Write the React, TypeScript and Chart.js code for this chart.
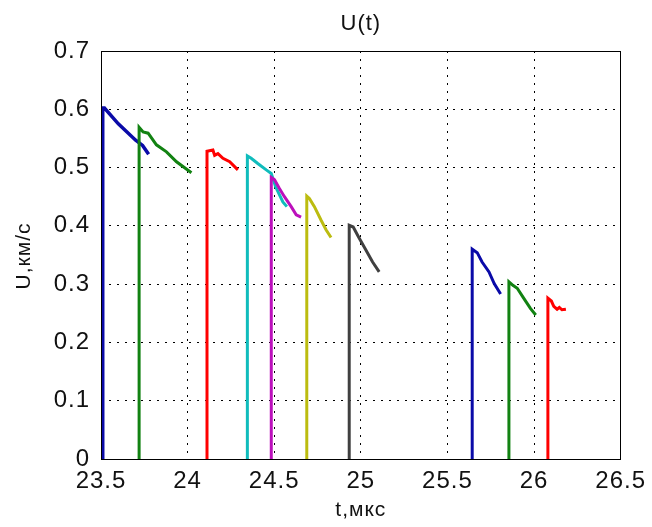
import React, { useEffect, useRef } from 'react';
import { Chart, registerables } from 'chart.js';

Chart.register(...registerables);

// Axis ticks
const xTickValues = [23.5, 24, 24.5, 25, 25.5, 26, 26.5];
const xTickLabels = ['23.5', '24', '24.5', '25', '25.5', '26', '26.5'];
const yTickValues = [0, 0.1, 0.2, 0.3, 0.4, 0.5, 0.6, 0.7];
const yTickLabels = ['0', '0.1', '0.2', '0.3', '0.4', '0.5', '0.6', '0.7'];

const titleText = 'U(t)';
const xAxisText = 't,мкс';
const yAxisText = 'U,км/с';

// Velocity pulses U(t): each starts with a jump from zero, then decays
const pulse1T = [23.51, 23.51, 23.52, 23.60, 23.70, 23.74, 23.775];
const pulse1U = [0, 0.602, 0.602, 0.575, 0.547, 0.538, 0.523];

const pulse2T = [23.72, 23.72, 23.743, 23.772, 23.82, 23.878, 23.936, 24.022];
const pulse2U = [0, 0.569, 0.561, 0.559, 0.539, 0.527, 0.51, 0.491];

const pulse3T = [24.112, 24.112, 24.146, 24.156, 24.175, 24.204, 24.243, 24.29];
const pulse3U = [0, 0.528, 0.53, 0.521, 0.524, 0.516, 0.51, 0.496];

const pulse4T = [24.345, 24.345, 24.367, 24.405, 24.454, 24.483, 24.508, 24.55, 24.573];
const pulse4U = [0, 0.52, 0.516, 0.507, 0.496, 0.49, 0.467, 0.441, 0.433];

const pulse5T = [24.483, 24.483, 24.502, 24.53, 24.559, 24.598, 24.627, 24.655];
const pulse5U = [0, 0.483, 0.479, 0.464, 0.45, 0.433, 0.419, 0.415];

const pulse6T = [24.688, 24.688, 24.703, 24.732, 24.77, 24.8, 24.828];
const pulse6U = [0, 0.451, 0.447, 0.433, 0.41, 0.393, 0.38];

const pulse7T = [24.933, 24.933, 24.956, 24.987, 25.03, 25.068, 25.106];
const pulse7U = [0, 0.401, 0.398, 0.381, 0.358, 0.338, 0.321];

const pulse8T = [25.643, 25.643, 25.672, 25.70, 25.74, 25.77, 25.807];
const pulse8U = [0, 0.36, 0.354, 0.338, 0.321, 0.301, 0.283];

const pulse9T = [25.855, 25.855, 25.878, 25.903, 25.94, 25.98, 26.01];
const pulse9U = [0, 0.304, 0.298, 0.293, 0.276, 0.258, 0.247];

const pulse10T = [26.08, 26.08, 26.10, 26.114, 26.133, 26.146, 26.161, 26.184];
const pulse10U = [0, 0.276, 0.271, 0.262, 0.257, 0.26, 0.256, 0.257];

const pulseColors = [
  '#0a0aa8', '#128212', '#ff0000', '#10bcbc', '#bc10bc',
  '#bcbc10', '#404040', '#0a0aa8', '#128212', '#ff0000',
];

const pulses = [
  [pulse1T, pulse1U], [pulse2T, pulse2U], [pulse3T, pulse3U], [pulse4T, pulse4U],
  [pulse5T, pulse5U], [pulse6T, pulse6U], [pulse7T, pulse7U], [pulse8T, pulse8U],
  [pulse9T, pulse9U], [pulse10T, pulse10U],
];

const FONT = '"Liberation Sans", Arial, sans-serif';

const frameAndLabels = {
  id: 'frameAndLabels',
  beforeDraw(chart: any) {
    // slightly open letter spacing for all text on the canvas
    (chart.ctx as any).letterSpacing = '1px';
  },
  afterDatasetsDraw(chart: any) {
    const { ctx, chartArea: a } = chart;
    ctx.save();
    ctx.strokeStyle = '#000';
    ctx.lineWidth = 1;
    ctx.strokeRect(Math.round(a.left) + 0.5, Math.round(a.top) + 0.5,
      Math.round(a.right - a.left) - 1, Math.round(a.bottom - a.top));
    ctx.restore();
  },
  afterDraw(chart: any) {
    const { ctx, chartArea: a } = chart;
    const cx = (a.left + a.right) / 2;
    const cy = (a.top + a.bottom) / 2;
    ctx.save();
    ctx.fillStyle = '#111';
    ctx.textAlign = 'center';
    ctx.textBaseline = 'middle';
    ctx.font = `22px ${FONT}`;
    ctx.fillText(titleText, cx, 24);
    ctx.font = `21px ${FONT}`;
    ctx.fillText(xAxisText, cx, 510);
    ctx.translate(24, cy + 1);
    ctx.rotate(-Math.PI / 2);
    ctx.fillText(yAxisText, 0, 0);
    ctx.restore();
  },
};

export default function App() {
  const canvasRef = useRef<HTMLCanvasElement | null>(null);

  useEffect(() => {
    const canvas = canvasRef.current;
    if (!canvas) return;
    const n = pulses.length;
    const datasets = pulses.map(([t, u], i) => ({
      data: t.map((x, k) => ({ x, y: u[k] })),
      borderColor: pulseColors[i],
      backgroundColor: pulseColors[i],
      borderWidth: i === 0 ? 3.5 : 3,
      pointRadius: 0,
      tension: 0,
      fill: false,
      order: n - i,
    }));

    const chart = new Chart(canvas, {
      type: 'line',
      data: { datasets },
      plugins: [frameAndLabels],
      options: {
        animation: false,
        responsive: false,
        maintainAspectRatio: false,
        parsing: false as any,
        layout: { padding: { left: 0, right: 30, top: 51, bottom: 0 } },
        plugins: {
          legend: { display: false },
          title: { display: false },
          tooltip: { enabled: false },
        },
        scales: {
          x: {
            type: 'linear',
            min: 23.5,
            max: 26.5,
            afterBuildTicks: (s: any) => {
              s.ticks = xTickValues.map((v) => ({ value: v }));
            },
            afterFit: (s: any) => {
              s.height = 68;
            },
            ticks: {
              autoSkip: false,
              maxRotation: 0,
              padding: 8,
              color: '#111',
              font: { family: FONT, size: 24 },
              callback: (v: any) => {
                const i = xTickValues.findIndex((x) => Math.abs(x - Number(v)) < 1e-9);
                return i >= 0 ? xTickLabels[i] : '';
              },
            },
            grid: { color: '#000', lineWidth: 1, drawTicks: false },
            border: { display: false, dash: [2, 6] },
          },
          y: {
            type: 'linear',
            min: 0,
            max: 0.7,
            afterBuildTicks: (s: any) => {
              s.ticks = yTickValues.map((v) => ({ value: v }));
            },
            afterFit: (s: any) => {
              s.width = 101;
            },
            ticks: {
              autoSkip: false,
              padding: 11,
              color: '#111',
              font: { family: FONT, size: 24 },
              callback: (v: any) => {
                const i = yTickValues.findIndex((y) => Math.abs(y - Number(v)) < 1e-9);
                return i >= 0 ? yTickLabels[i] : '';
              },
            },
            grid: { color: '#000', lineWidth: 1, drawTicks: false },
            border: { display: false, dash: [2, 6] },
          },
        },
      },
    });
    return () => chart.destroy();
  }, []);

  return (
    <div style={{ position: 'absolute', left: 0, top: 0, width: 652, height: 527, background: '#fff' }}>
      <canvas ref={canvasRef} width={652} height={527} style={{ display: 'block', width: 652, height: 527 }} />
    </div>
  );
}
